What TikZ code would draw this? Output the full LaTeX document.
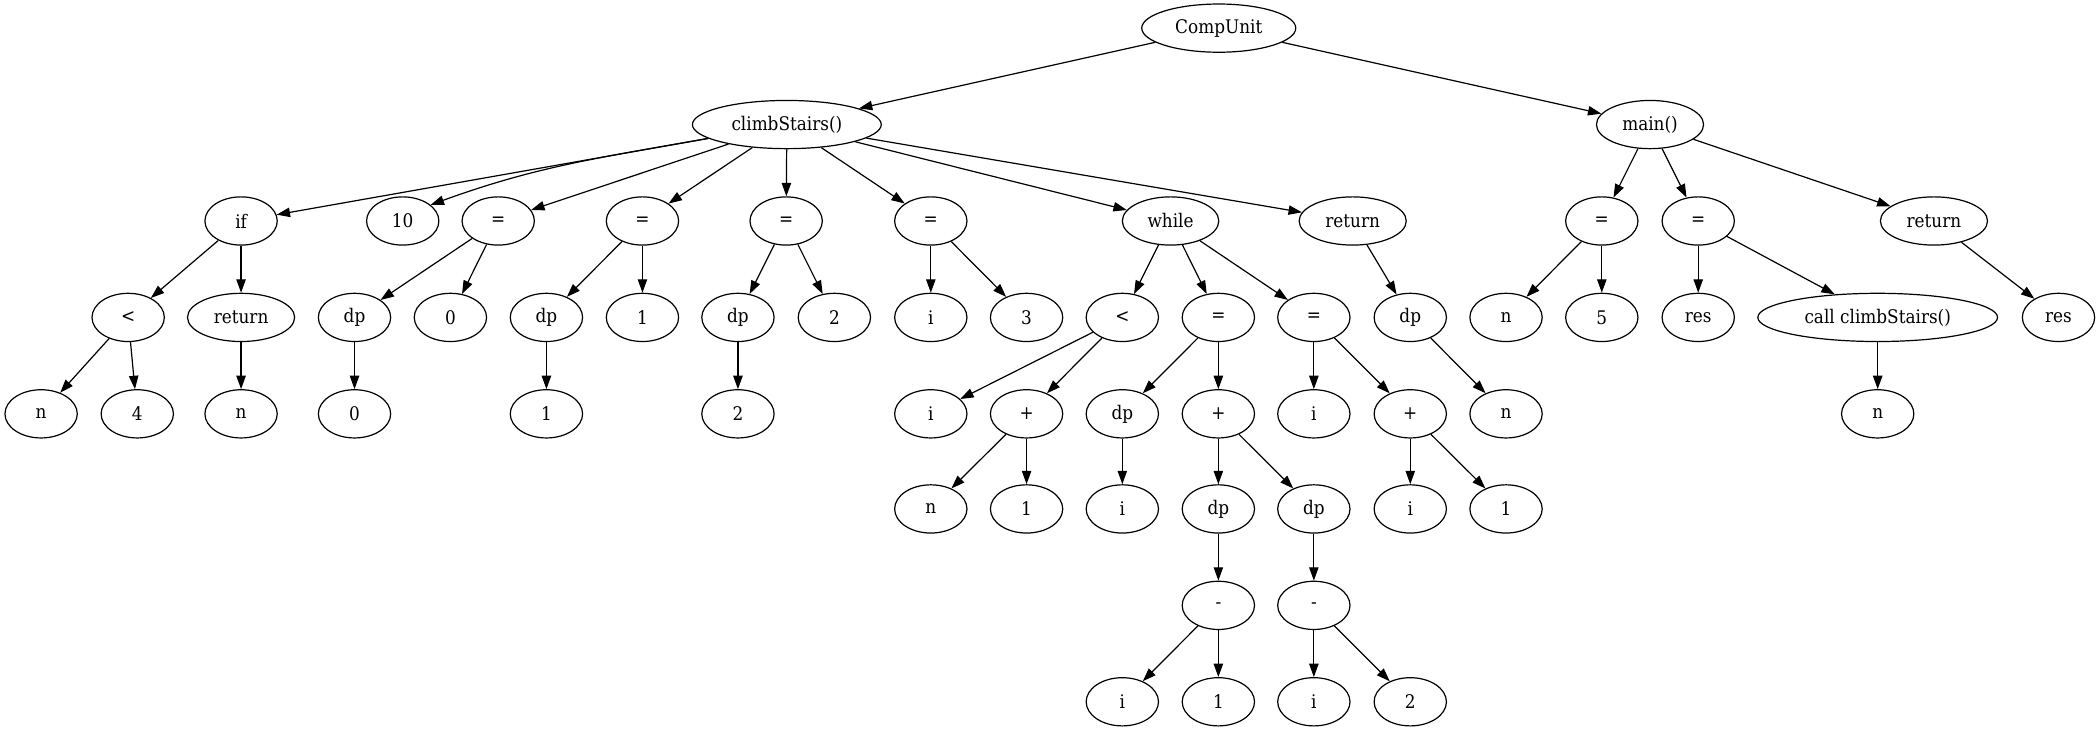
\documentclass[tikz,border=0pt]{standalone}
\usepackage{fontspec}
\setmainfont{DejaVu Serif Condensed}
\usetikzlibrary{arrows.meta,shapes.geometric}
\tikzset{
  nd/.style={ellipse, draw, line width=0.9pt, inner sep=0pt,
    minimum width=54pt, minimum height=36pt, font=\fontsize{14}{16}\selectfont},
  ed/.style={line width=0.9pt, -{Triangle[length=10pt,width=7pt]}}
}
\begin{document}
\begin{tikzpicture}[x=1pt,y=-1pt]
\useasboundingbox (0,0) rectangle (1568,546);
% rank 0
\node[nd, minimum width=115pt] (cu) at (910,21) {CompUnit};
% rank 1
\node[nd, minimum width=141pt] (cs) at (587.5,93) {climbStairs()};
\node[nd, minimum width=80pt] (mn) at (1232,93) {main()};
% rank 2
\node[nd] (if) at (180,165) {if};
\node[nd] (ten) at (300.7,165) {10};
\node[nd] (eqa) at (372,165) {=};
\node[nd] (eqb) at (479.7,165) {=};
\node[nd] (eqc) at (587,165) {=};
\node[nd] (eqd) at (695,165) {=};
\node[nd, minimum width=72pt] (wh) at (874,165) {while};
\node[nd, minimum width=80pt] (reta) at (1010,165) {return};
\node[nd] (eqg) at (1196,165) {=};
\node[nd] (eqh) at (1268,165) {=};
\node[nd, minimum width=80pt] (retc) at (1444,165) {return};
% rank 3
\node[nd] (lta) at (95.7,237) {<};
\node[nd, minimum width=80pt] (retb) at (180,237) {return};
\node[nd] (dpa) at (264.7,237) {dp};
\node[nd] (za) at (336.3,237) {0};
\node[nd] (dpb) at (408,237) {dp};
\node[nd] (oa) at (479.7,237) {1};
\node[nd] (dpc) at (551,237) {dp};
\node[nd] (ta) at (623,237) {2};
\node[nd] (ia) at (695,237) {i};
\node[nd] (three) at (766.5,237) {3};
\node[nd] (ltb) at (838,237) {<};
\node[nd] (eqe) at (909.7,237) {=};
\node[nd] (eqf) at (981,237) {=};
\node[nd] (dpg) at (1053,237) {dp};
\node[nd] (ne) at (1124.5,237) {n};
\node[nd] (five) at (1196,237) {5};
\node[nd] (resa) at (1268,237) {res};
\node[nd, minimum width=179pt] (call) at (1402,237) {call climbStairs()};
\node[nd] (resb) at (1537,237) {res};
% rank 4
\node[nd] (na) at (30.7,309) {n};
\node[nd] (four) at (102.5,309) {4};
\node[nd] (nb) at (180,309) {n};
\node[nd] (zb) at (264.7,309) {0};
\node[nd] (ob) at (408,309) {1};
\node[nd] (tb) at (551,309) {2};
\node[nd] (ib) at (695,309) {i};
\node[nd] (pa) at (766.5,309) {+};
\node[nd] (dpd) at (838,309) {dp};
\node[nd] (pb) at (909.7,309) {+};
\node[nd] (ig) at (981,309) {i};
\node[nd] (pc) at (1053,309) {+};
\node[nd] (nd) at (1124.5,309) {n};
\node[nd] (nf) at (1402,309) {n};
% rank 5
\node[nd] (nc) at (695,380) {n};
\node[nd] (oc) at (766.5,380) {1};
\node[nd] (ic) at (838,380) {i};
\node[nd] (dpe) at (909.7,380) {dp};
\node[nd] (dpf) at (981,380) {dp};
\node[nd] (ih) at (1053,380) {i};
\node[nd] (oe) at (1124.5,380) {1};
% rank 6
\node[nd] (ma) at (909.7,452) {-};
\node[nd] (mb) at (981,452) {-};
% rank 7
\node[nd] (id) at (838,524) {i};
\node[nd] (od) at (909.7,524) {1};
\node[nd] (ie) at (981,524) {i};
\node[nd] (tc) at (1053,524) {2};
% edges
\foreach \a/\b in {cu/cs, cu/mn,
  cs/if, cs/eqa, cs/eqb, cs/eqc, cs/eqd, cs/wh, cs/reta,
  if/lta, if/retb, lta/na, lta/four, retb/nb,
  eqa/dpa, eqa/za, dpa/zb,
  eqb/dpb, eqb/oa, dpb/ob,
  eqc/dpc, eqc/ta, dpc/tb,
  eqd/ia, eqd/three,
  wh/ltb, wh/eqe, wh/eqf,
  ltb/ib, ltb/pa, pa/nc, pa/oc,
  eqe/dpd, eqe/pb, dpd/ic, pb/dpe, pb/dpf, dpe/ma, dpf/mb,
  ma/id, ma/od, mb/ie, mb/tc,
  eqf/ig, eqf/pc, pc/ih, pc/oe,
  reta/dpg, dpg/nd,
  mn/eqg, mn/eqh, mn/retc,
  eqg/ne, eqg/five, eqh/resa, eqh/call, call/nf, retc/resb}
  \draw[ed] (\a) -- (\b);
% the edge to "10" bends past the neighbouring "=" node
\draw[ed] (cs.190) to[out=190,in=20] (ten.30);
\end{tikzpicture}
\end{document}
